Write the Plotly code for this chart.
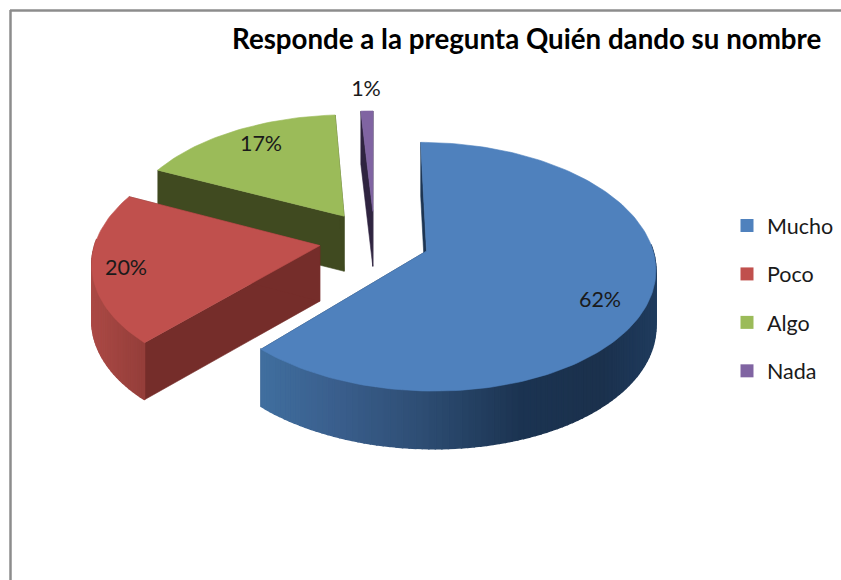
import numpy as np
import plotly.graph_objects as go

TITLE = "Responde a la pregunta Quién dando su nombre"
categories = ["Mucho", "Poco", "Algo", "Nada"]
values = [62, 20, 17, 1]
top_colors = ["#4f81bd", "#c0504d", "#9bbb59", "#8064a2"]
cut_colors = ["#1d3553", "#752d2a", "#404a20", "#2f2440"]
side_stops = [
    [(264, (64, 110, 158)), (340, (58, 94, 140)), (420, (46, 78, 116)),
     (520, (28, 52, 82)), (600, (27, 49, 77)), (656, (32, 60, 94))],
    [(90, (172, 74, 70)), (145, (148, 62, 58))],
    [(0, (64, 74, 32)), (1, (64, 74, 32))],
    [(0, (47, 36, 64)), (1, (47, 36, 64))],
]
label_xy = [(600, 302), (126, 270), (261, 146), (366, 91)]

# projection of the tilted pie onto the page (pixels)
CX, CY, AX, KY, PERSP = 374.5, 240, 224, 119.6, 0.125
EXPLODE = 0.247


def project(U, V):
    w = 1 + PERSP * V
    return CX + AX * U / w, CY - KY * V / w


def depth(V):
    return 55.5 - 2.0 * V


fig = go.Figure()


def poly(xs, ys, color, width=0.6):
    fig.add_trace(go.Scatter(
        x=list(xs), y=list(ys), mode="lines", fill="toself", fillcolor=color,
        line=dict(color=color, width=width), hoverinfo="skip", showlegend=False))


def side_color(stops, x):
    xp = [s[0] for s in stops]
    rgb = [np.interp(x, xp, [s[1][i] for s in stops]) for i in range(3)]
    return "rgb(%d,%d,%d)" % tuple(int(c) for c in rgb)


total = sum(values)
edges = np.concatenate([[0], np.cumsum(values)]) / total * 2 * np.pi
slices = []
for i in range(len(values)):
    a0, a1 = edges[i], edges[i + 1]
    mid = (a0 + a1) / 2
    U0, V0 = EXPLODE * np.sin(mid), EXPLODE * np.cos(mid)
    t = np.linspace(a0, a1, max(6, int((a1 - a0) * 40)))
    Ur, Vr = U0 + np.sin(t), V0 + np.cos(t)
    rx, ry = project(Ur, Vr)
    ax_, ay_ = project(U0, V0)
    slices.append(dict(i=i, ax=ax_, ay=ay_, t=t, rx=rx, ry=ry, rd=depth(Vr), ad=depth(V0)))

# back-to-front: green, purple, red, blue
for s in (slices[2], slices[3], slices[1], slices[0]):
    i = s["i"]
    rx, ry, rd = s["rx"], s["ry"], s["rd"]
    for k in (0, -1):
        poly([s["ax"], rx[k], rx[k], s["ax"], s["ax"]],
             [s["ay"], ry[k], ry[k] + rd[k], s["ay"] + s["ad"], s["ay"]], cut_colors[i])
    if i < 2:
        for j in range(len(rx) - 1):
            if np.cos((s["t"][j] + s["t"][j + 1]) / 2) > 0.05:
                continue
            xm = (rx[j] + rx[j + 1]) / 2
            poly([rx[j], rx[j + 1], rx[j + 1], rx[j], rx[j]],
                 [ry[j], ry[j + 1], ry[j + 1] + rd[j + 1], ry[j] + rd[j], ry[j]],
                 side_color(side_stops[i], xm), width=1.5)
    poly(np.r_[s["ax"], rx, s["ax"]], np.r_[s["ay"], ry, s["ay"]], top_colors[i])

# data labels
fig.add_trace(go.Scatter(
    x=[p[0] for p in label_xy], y=[p[1] for p in label_xy],
    text=[f"{v}%" for v in values], mode="text",
    textfont=dict(family="Lato", size=21.5, color="#1a1a1a"),
    textposition="middle center", hoverinfo="skip", showlegend=False))

# legend entries
for name, col in zip(categories, top_colors):
    fig.add_trace(go.Scatter(
        x=[None], y=[None], mode="markers", name=name, legendgroup=name,
        marker=dict(symbol="square", size=13, color=col)))

fig.update_layout(
    width=841, height=580, margin=dict(l=0, r=0, t=0, b=0),
    paper_bgcolor="white", plot_bgcolor="white",
    autosize=False,
    xaxis=dict(range=[0, 841], visible=False, fixedrange=True),
    yaxis=dict(range=[580, 0], visible=False, fixedrange=True),
    legend=dict(x=727 / 841, y=1 - 205 / 580, xanchor="left", yanchor="top",
                tracegroupgap=17.5, bgcolor="rgba(0,0,0,0)",
                font=dict(family="Lato", size=21.5, color="#1a1a1a")),
    annotations=[dict(text=f"<b>{TITLE}</b>", x=526 / 841, y=1 - 38 / 580,
                      xref="paper", yref="paper", showarrow=False,
                      xanchor="center", yanchor="middle",
                      font=dict(family="Lato", size=27.7, color="black"))],
    shapes=[
        dict(type="line", xref="x", yref="y", x0=10, x1=841, y0=10.5, y1=10.5,
             line=dict(color="#8c8c8c", width=2.5)),
        dict(type="line", xref="x", yref="y", x0=10.5, x1=10.5, y0=10, y1=580,
             line=dict(color="#8c8c8c", width=2.5)),
    ],
)
fig.write_html("out.html", config={"displayModeBar": False},
               post_script="document.body.style.margin='0';document.documentElement.style.overflow='hidden';")
